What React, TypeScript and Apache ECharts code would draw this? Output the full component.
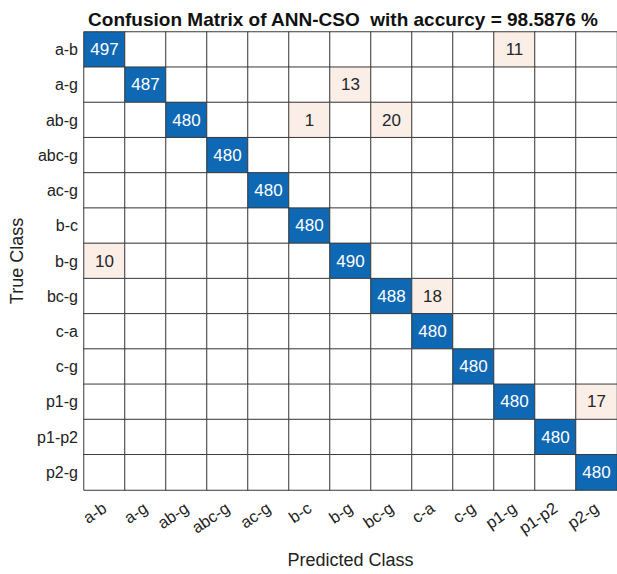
import React, { useEffect, useRef } from "react";
import * as echarts from "echarts";

const classes = ["a-b", "a-g", "ab-g", "abc-g", "ac-g", "b-c", "b-g", "bc-g", "c-a", "c-g", "p1-g", "p1-p2", "p2-g"];

// [trueClass, predictedClass, count] for nonzero cells
const nonZeroCells: [string, string, number][] = [
  ["a-b", "a-b", 497], ["a-b", "p1-g", 11],
  ["a-g", "a-g", 487], ["a-g", "b-g", 13],
  ["ab-g", "ab-g", 480], ["ab-g", "b-c", 1], ["ab-g", "bc-g", 20],
  ["abc-g", "abc-g", 480],
  ["ac-g", "ac-g", 480],
  ["b-c", "b-c", 480],
  ["b-g", "a-b", 10], ["b-g", "b-g", 490],
  ["bc-g", "bc-g", 488], ["bc-g", "c-a", 18],
  ["c-a", "c-a", 480],
  ["c-g", "c-g", 480],
  ["p1-g", "p1-g", 480], ["p1-g", "p2-g", 17],
  ["p1-p2", "p1-p2", 480],
  ["p2-g", "p2-g", 480],
];

const accuracyText = "98.5876 %";

export default function App() {
  const ref = useRef<HTMLDivElement>(null);
  useEffect(() => {
    document.body.style.margin = "0";
    const chart = echarts.init(ref.current!, null, { renderer: "svg" });
    const data: any[] = [];
    classes.forEach((t, yi) => {
      classes.forEach((p, xi) => {
        const c = nonZeroCells.find((d) => d[0] === t && d[1] === p);
        const v = c ? c[2] : 0;
        const diag = xi === yi;
        data.push({
          value: [xi, yi, v],
          label: { show: v !== 0, color: diag ? "#ffffff" : "#262626" },
        });
      });
    });
    const font = "Liberation Sans, Arial, sans-serif";
    chart.setOption({
      animation: false,
      backgroundColor: "#ffffff",
      title: {
        text: "Confusion Matrix of ANN-CSO  with accurcy = " + accuracyText,
        left: 338,
        textAlign: "center",
        top: 5,
        textStyle: { fontFamily: font, fontSize: 19, fontWeight: "bold", color: "#111" },
      },
      grid: { left: 83, top: 32, width: 537, height: 463 },
      visualMap: {
        type: "piecewise",
        show: false,
        dimension: 2,
        seriesIndex: 0,
        pieces: [
          { min: 0, max: 0, color: "#ffffff" },
          { min: 1, max: 200, color: "#fbeee7" },
          { min: 201, color: "#0f68b4" },
        ],
      },
      xAxis: {
        type: "category",
        data: classes,
        name: "Predicted Class",
        nameLocation: "middle",
        nameGap: 61,
        nameTextStyle: { fontFamily: font, fontSize: 18, color: "#222" },
        axisLine: { show: false },
        axisTick: { show: false },
        splitLine: { show: false },
        axisLabel: { interval: 0, rotate: 34, margin: 16, fontFamily: font, fontSize: 16.5, color: "#222" },
      },
      yAxis: {
        type: "category",
        data: classes,
        inverse: true,
        name: "True Class",
        nameLocation: "middle",
        nameGap: 58,
        nameTextStyle: { fontFamily: font, fontSize: 18, color: "#222" },
        axisLine: { show: false },
        axisTick: { show: false },
        splitLine: { show: false },
        axisLabel: { interval: 0, margin: 6, fontFamily: font, fontSize: 16, color: "#222" },
      },
      series: [
        {
          type: "heatmap",
          data,
          itemStyle: { borderColor: "#3a3a3a", borderWidth: 1 },
          label: { show: true, fontFamily: font, fontSize: 17, formatter: (p: any) => String(p.value[2]) },
          emphasis: { disabled: true },
        },
      ],
    });
    return () => chart.dispose();
  }, []);
  return <div ref={ref} style={{ width: 617, height: 574 }} />;
}
